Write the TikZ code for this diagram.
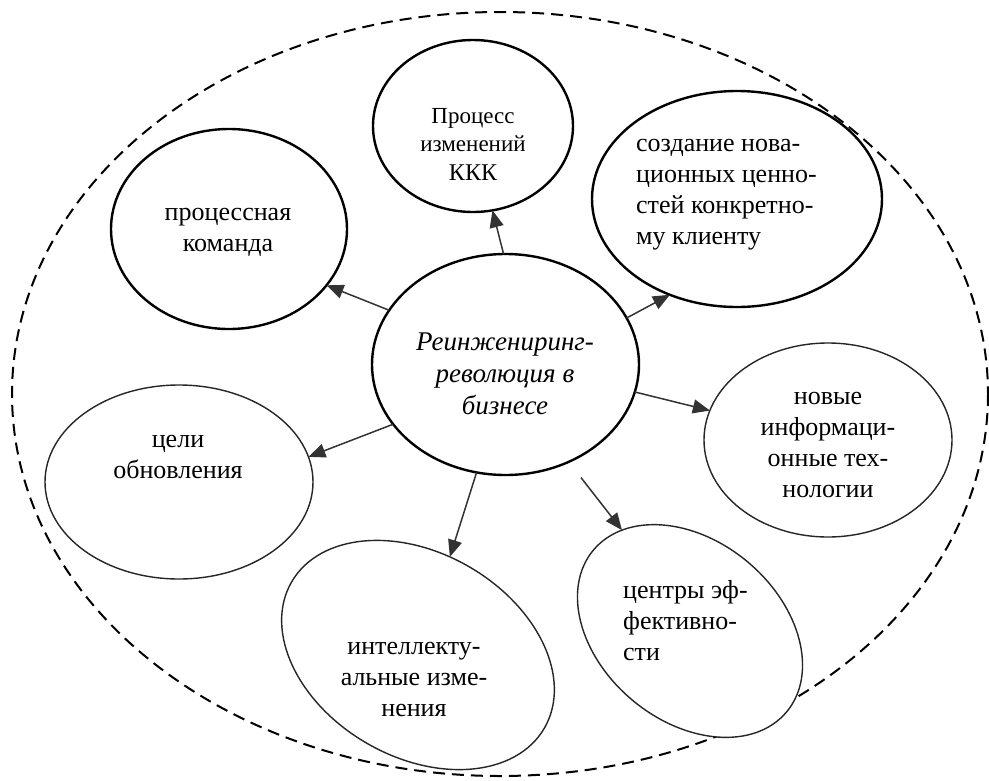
\documentclass[tikz,border=0pt]{standalone}
\usepackage{fontspec}
\setmainfont{Liberation Serif}
\usetikzlibrary{shapes.geometric,arrows.meta}

\begin{document}
\begin{tikzpicture}[x=1pt,y=-1pt,
  bubble/.style={ellipse, draw, inner sep=0pt, outer sep=0pt, fill=white},
  boldbubble/.style={bubble, line width=2.4pt, draw=black},
  thinbubble/.style={bubble, line width=1.4pt, draw=black!85},
  label/.style={inner sep=0pt, font=\fontsize{26}{31}\selectfont, text=black},
  link/.style={draw=black!80, line width=1.5pt, -{Triangle[length=17pt,width=14pt]}},
  frame/.style={draw=black, line width=2pt, dash pattern=on 12pt off 7pt},
]
\clip (0,0) rectangle (989,780);
\fill[white] (0,0) rectangle (989,780);

% outer dashed boundary
\draw[frame] (500,394) ellipse [x radius=488, y radius=382];

% bubbles
\node[boldbubble, minimum width=267pt, minimum height=221pt] (core) at (505.5,364.5) {};
\node[boldbubble, minimum width=236pt, minimum height=200pt] (team) at (229,229) {};
\node[boldbubble, minimum width=200pt, minimum height=172pt] (kkk) at (473,126) {};
\node[boldbubble, minimum width=290pt, minimum height=216pt] (value) at (737,199) {};
\node[thinbubble, minimum width=268pt, minimum height=194pt] (goals) at (179,482) {};
\node[thinbubble, minimum width=248pt, minimum height=194pt] (tech) at (828,440) {};
\node[thinbubble, rotate=-40, minimum width=252pt, minimum height=180pt] (centres) at (690,631) {};
\node[thinbubble, rotate=-30, minimum width=292pt, minimum height=204pt] (intel) at (418,655) {};

% texts
\node[label, font=\fontsize{27}{32}\selectfont\itshape, align=center] (coretext) at (505,374)
  {Реинжениринг-\\революция в\\бизнесе};
\node[label, align=center] (teamtext) at (228,232) {процессная\\команда};
\node[label, font=\fontsize{23}{28.5}\selectfont, align=center] (kkktext) at (473,144)
  {Процесс\\изменений\\\fontsize{24}{28.5}\selectfont ККК};
\node[label, align=left, anchor=west] (valuetext) at (636,195)
  {создание нова-\\ционных ценно-\\стей конкретно-\\му клиенту};
\node[label, align=center] (goalstext) at (178,457) {цели\\обновления};
\node[label, align=center] (techtext) at (828,445) {новые\\информаци-\\онные тех-\\нологии};
\node[label, align=left, anchor=west] (centrestext) at (623,621) {центры эф-\\фективно-\\сти};
\node[label, align=center] (inteltext) at (414,679) {интеллекту-\\альные изме-\\нения};

% connectors
\draw[link] (core.155.5) -- (team.-30.4);
\draw[link] (core.91.8) -- (kkk.-77);
\draw[link] (core.21.8) -- (value.235.9);
\draw[link] (core.-12.4) -- (tech.166.7);
\draw[link, shorten <=20pt] (core.-57.4) -- (centres.164.1);
\draw[link] (core.255.5) -- (intel.102.3);
\draw[link] (core.208.1) -- (goals.11.5);
\end{tikzpicture}
\end{document}
